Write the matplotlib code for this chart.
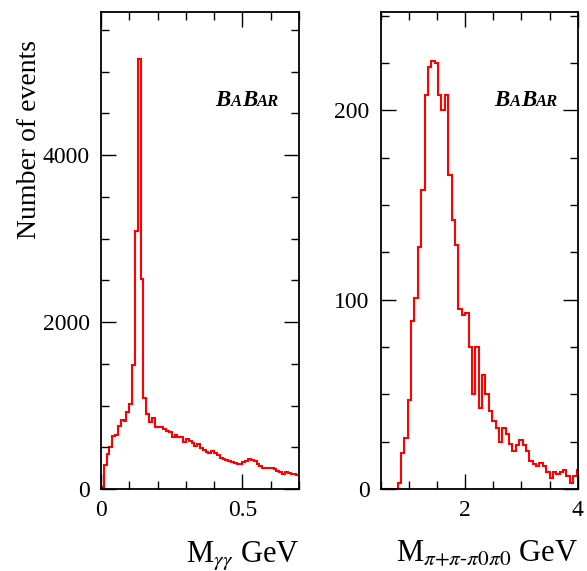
import numpy as np
import matplotlib
matplotlib.use("Agg")
from matplotlib import pyplot as plt
from matplotlib.offsetbox import TextArea, HPacker, AnchoredOffsetbox

plt.rcParams["font.family"] = ["Liberation Serif", "DejaVu Serif"]
plt.rcParams["mathtext.fontset"] = "stix"

# M(gamma gamma): 70 bins of 0.01 GeV from 0 to 0.7
mgg_edges = np.round(np.arange(0.0, 0.7001, 0.01), 3)
mgg_counts = [
    20, 292, 420, 508, 632, 648, 752, 832, 820, 920,
    1020, 1480, 3088, 5152, 2512, 1088, 896, 808, 848, 748,
    748, 748, 720, 700, 680, 620, 650, 620, 620, 560,
    600, 580, 550, 510, 535, 490, 465, 445, 430, 450,
    430, 405, 370, 365, 345, 335, 320, 315, 305, 300,
    320, 340, 360, 345, 335, 305, 280, 255, 255, 250,
    250, 240, 220, 200, 175, 200, 195, 175, 175, 170,
]

# M(pi+ pi- pi0 pi0): bins of 0.06 GeV starting at 0.5
m4pi_edges = np.round(0.5 + 0.06 * np.arange(60), 3)
m4pi_counts = [
    0, 0, 0, 0, 0, 3, 19, 27, 47, 89,
    101, 128, 158, 208, 223, 226, 225, 208, 200, 208,
    166, 142, 129, 95, 92, 93, 75, 50, 75, 43,
    60, 50, 41, 36, 32, 25, 32, 29, 24, 20,
    23, 26, 23, 20, 15, 13, 12, 14, 12, 9,
    6, 9, 8, 9, 10, 7, 3, 7, 10,
]

fig = plt.figure(figsize=(5.87, 5.71), dpi=100)
W, H = 587, 571
ax1 = fig.add_axes([101 / W, (H - 489) / H, 198 / W, 477 / H])
ax2 = fig.add_axes([380.7 / W, (H - 489) / H, 197 / W, 477 / H])


def draw_hist(ax, edges, counts):
    ax.stairs(counts, edges, color="red", lw=1.5, baseline=None)
    # ROOT style: drop to zero at the first edge
    ax.plot([edges[0], edges[0]], [0, counts[0]], color="red", lw=1.5)


def style(ax, xmaj, xmin, ymaj, ymin):
    ax.xaxis.set_major_locator(plt.MultipleLocator(xmaj))
    ax.xaxis.set_minor_locator(plt.MultipleLocator(xmin))
    ax.yaxis.set_major_locator(plt.MultipleLocator(ymaj))
    ax.yaxis.set_minor_locator(plt.MultipleLocator(ymin))
    ax.tick_params(which="both", direction="in", top=True, right=True,
                   labelsize=17, width=1.0)
    ax.tick_params(which="major", length=11, pad=8)
    ax.tick_params(which="minor", length=6)
    for s in ax.spines.values():
        s.set_linewidth(1.3)


def babar(ax):
    prop_big = dict(size=16.5, weight="bold", style="italic", family="Liberation Serif")
    prop_small = dict(size=12, weight="bold", style="italic", family="Liberation Serif")
    parts = [TextArea("B", textprops=prop_big), TextArea("A", textprops=prop_small),
             TextArea("B", textprops=prop_big), TextArea("AR", textprops=prop_small)]
    box = HPacker(children=parts, align="baseline", pad=0, sep=0)
    ab = AnchoredOffsetbox(loc="center", child=box, frameon=False,
                           bbox_to_anchor=(0.74, 0.815), bbox_transform=ax.transAxes,
                           borderpad=0, pad=0)
    ax.add_artist(ab)


draw_hist(ax1, mgg_edges, mgg_counts)
ax1.set_xlim(0, 0.7)
ax1.set_ylim(0, 5715)
style(ax1, 0.5, 0.1, 2000, 500)
ax1.set_xticks([0, 0.5], ["0", "0.5"])
babar(ax1)

draw_hist(ax2, m4pi_edges, m4pi_counts)
ax2.set_xlim(0.5, 4.0)
ax2.set_ylim(0, 252)
style(ax2, 2, 0.5, 100, 25)
babar(ax2)

ax1.set_xlabel(r"M$_{\gamma\gamma}$ GeV", fontsize=22, loc="right", labelpad=13)
ax2.set_xlabel("M$_{\\pi{+}\\pi\u2010\\pi0\\pi0}$ GeV", fontsize=22, loc="right", labelpad=13)
fig.text(30 / W, 1 - 40 / H, "Number of events", rotation=90, fontsize=20,
         ha="center", va="top")

fig.savefig("out.png", dpi=100)
